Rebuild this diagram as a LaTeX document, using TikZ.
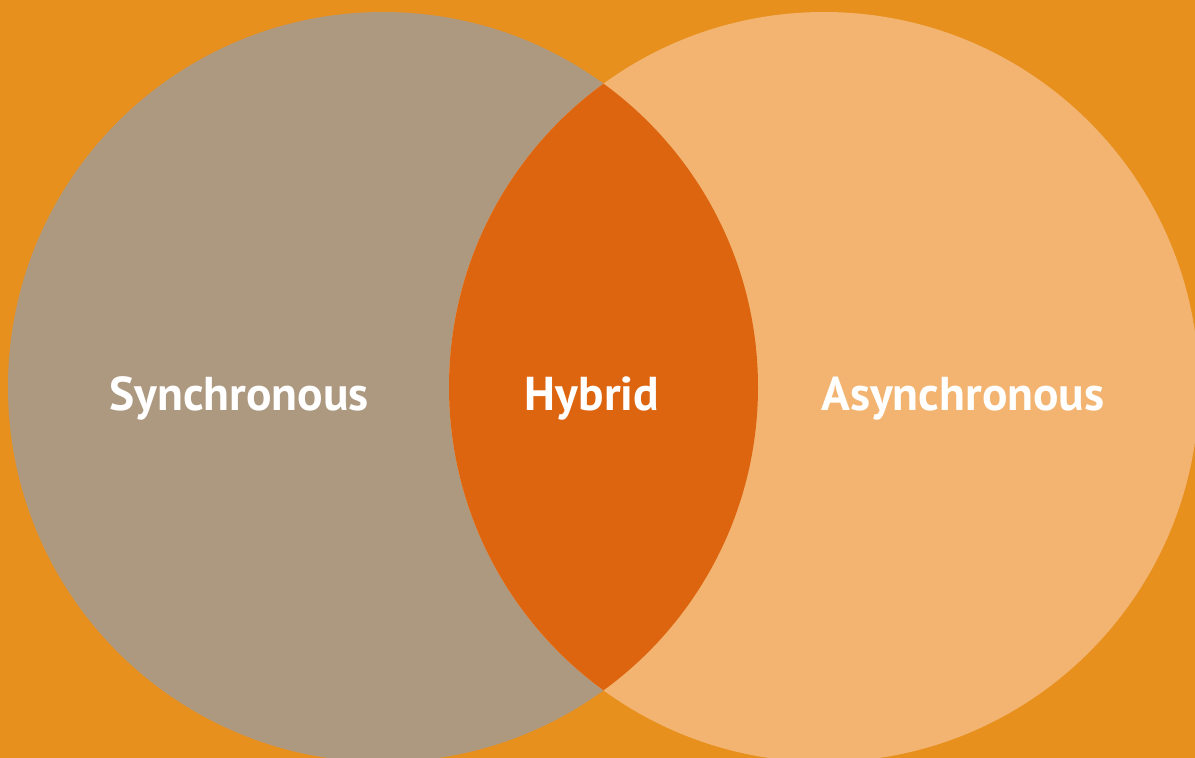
\documentclass[tikz,border=0pt]{standalone}
\usepackage{fontspec}
\setmainfont{PT Sans}
\definecolor{bg}{HTML}{E8901E}
\definecolor{leftc}{HTML}{AD9880}
\definecolor{rightc}{HTML}{F2B470}
\definecolor{lens}{HTML}{DE6510}
\begin{document}
\begin{tikzpicture}[x=1pt,y=-1pt,
  lbl/.style={text=white,font=\fontsize{47.5}{54}\selectfont\bfseries,anchor=base,inner sep=0pt}]
\fill[bg] (0,0) rectangle (1195,758);
\useasboundingbox (0,0) rectangle (1195,758);
\begin{scope}
\clip (0,0) rectangle (1195,758);
\fill[leftc] (383,387) circle[radius=375];
\fill[rightc] (824,387) circle[radius=375];
\begin{scope}
\clip (383,387) circle[radius=375];
\fill[lens] (824,387) circle[radius=375];
\end{scope}
\end{scope}
\node[lbl] (sync) at (239,410) {Synchronous};
\node[lbl] (hyb) at (592,410) {Hybrid};
\node[lbl] (async) at (963,410) {Asynchronous};
\end{tikzpicture}
\end{document}
